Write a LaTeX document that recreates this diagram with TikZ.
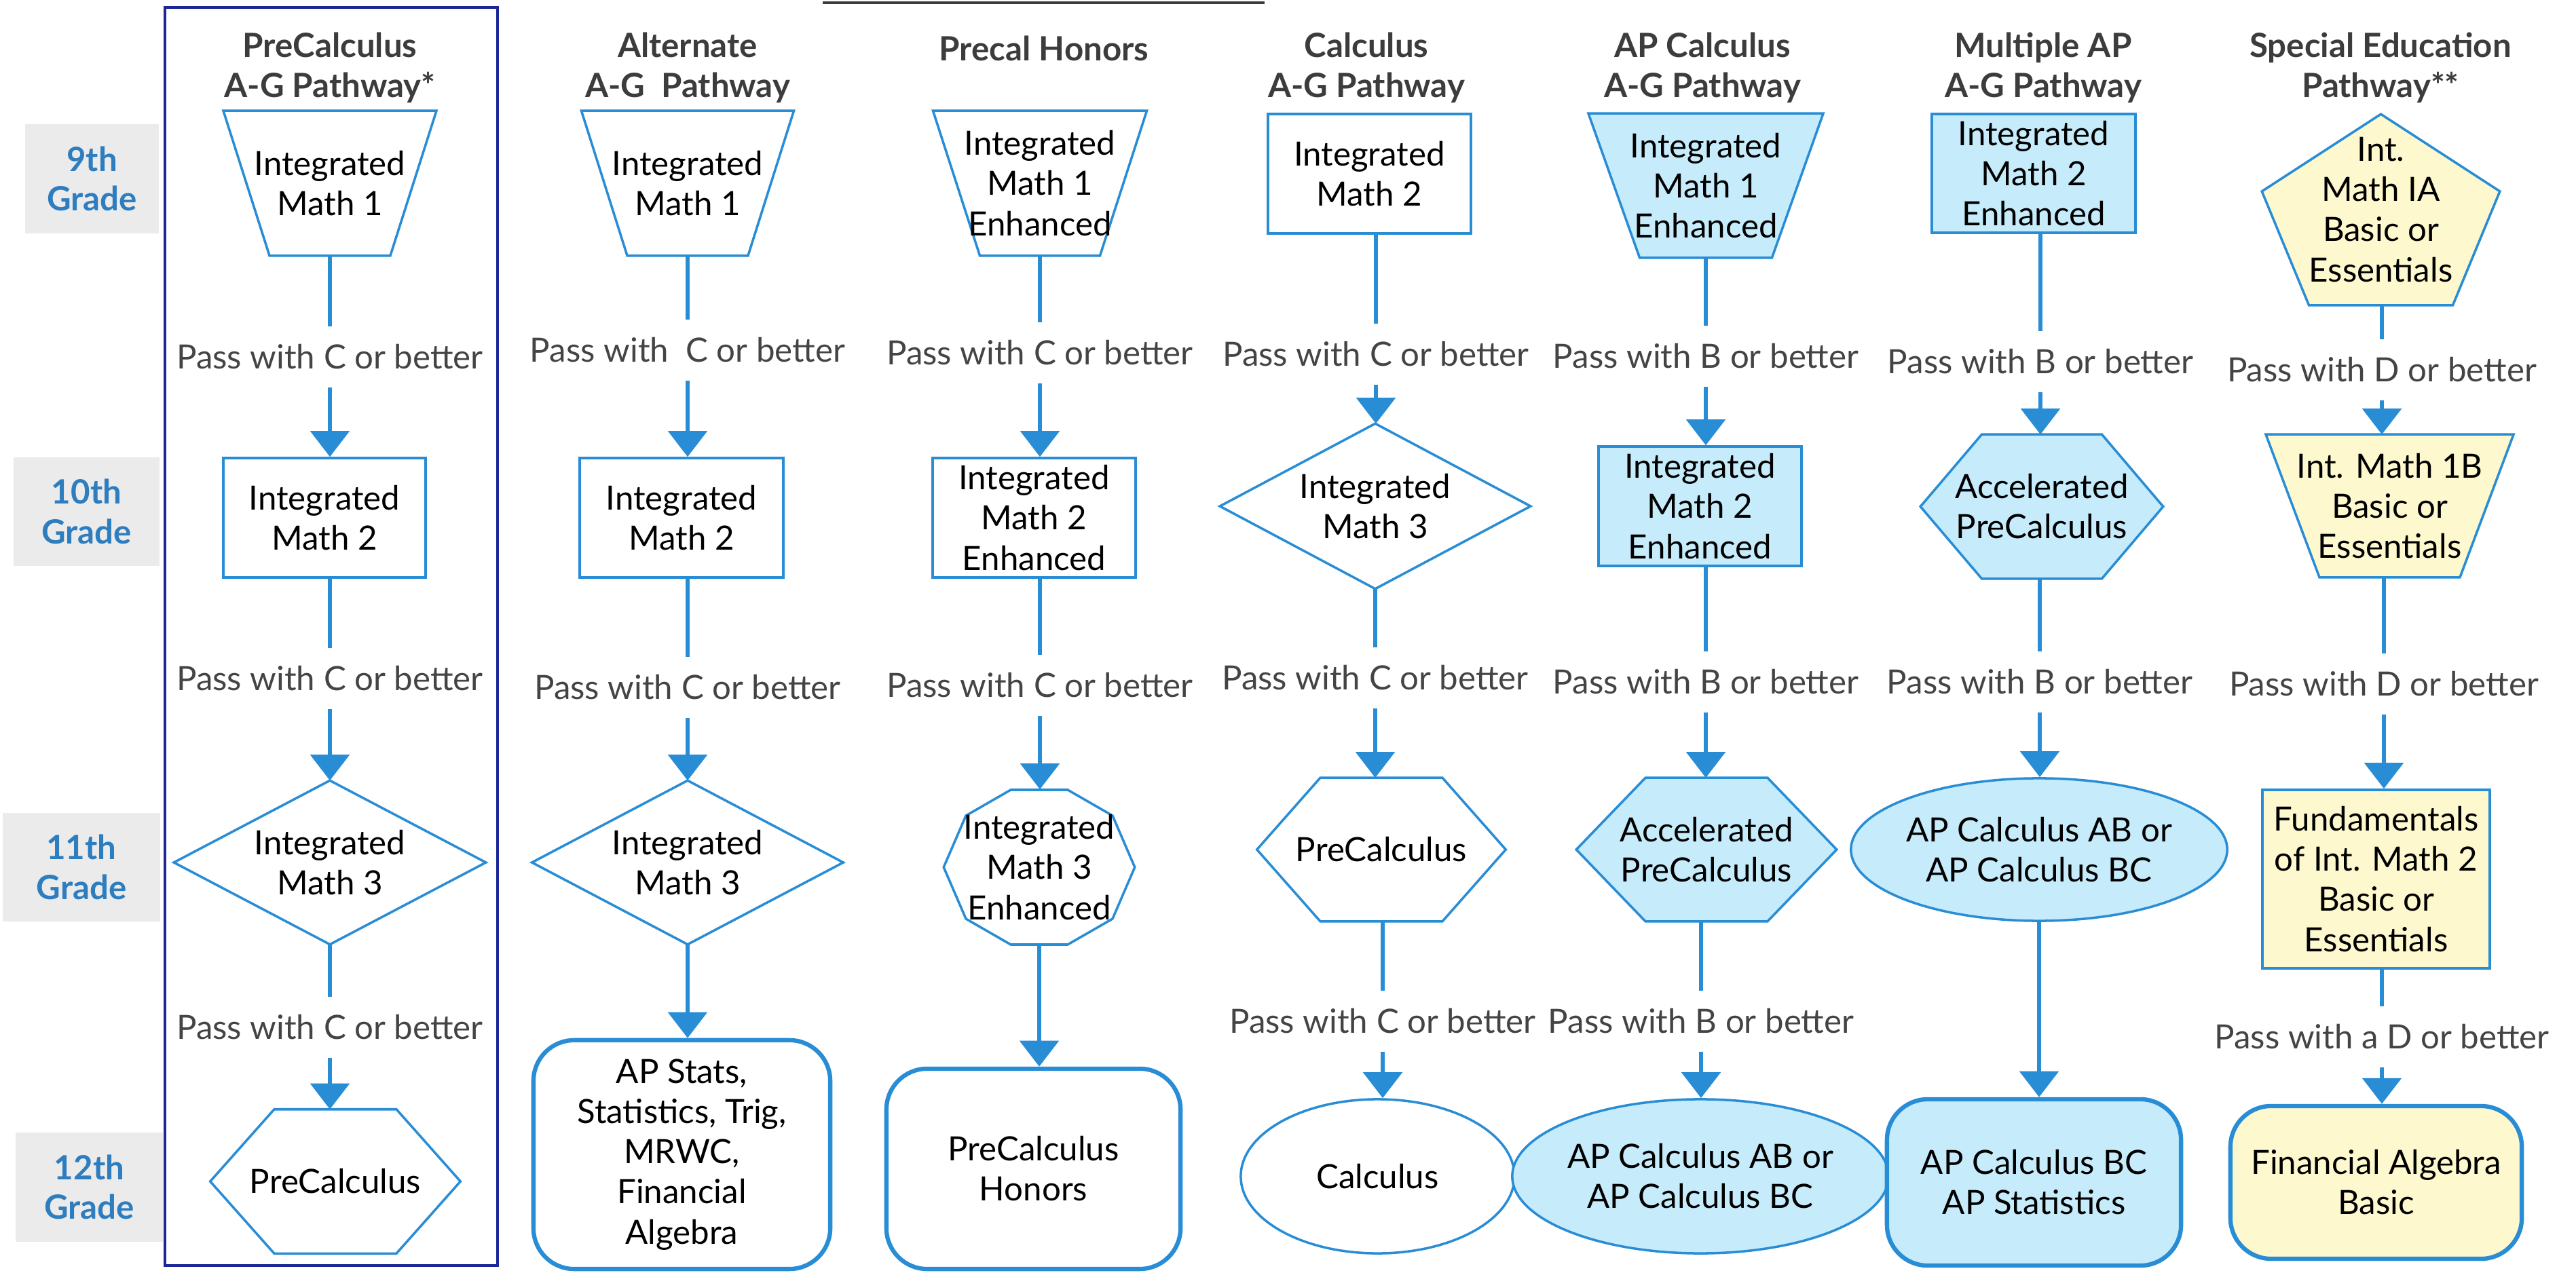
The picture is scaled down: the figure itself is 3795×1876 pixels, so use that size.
\documentclass[tikz,border=0pt]{standalone}
\usepackage{fontspec}
\setmainfont{Lato}
\usetikzlibrary{arrows.meta,shapes.geometric,calc,backgrounds}
\definecolor{nb}{RGB}{41,141,214}
\definecolor{lb}{RGB}{198,236,251}
\definecolor{yl}{RGB}{253,248,205}
\definecolor{navyc}{RGB}{28,38,150}
\definecolor{hd}{RGB}{60,60,60}
\definecolor{lg}{RGB}{68,68,68}
\definecolor{gb}{RGB}{235,235,235}
\definecolor{gt}{RGB}{46,125,190}
\tikzset{
  nodetext/.style={font=\fontsize{14}{16.8}\selectfont, align=center, inner sep=0pt, text=black},
  carrier/.style={nodetext, draw=none, rectangle},
  rbox/.style={nodetext, draw=nb, line width=1pt, rectangle},
  rrbox/.style={nodetext, draw=nb, line width=1.8pt, rounded corners=0.6cm, rectangle},
  ell/.style={nodetext, draw=nb, line width=1pt, ellipse},
  shp/.style={draw=nb, line width=1pt, line join=miter},
  lbl/.style={font=\fontsize{14}{16.8}\selectfont, text=lg, inner sep=0pt, minimum height=0.88cm},
  hdr/.style={font=\fontsize{14}{16.6}\selectfont\bfseries, text=hd, align=center, inner sep=0pt},
  grade/.style={font=\fontsize{14}{16.6}\selectfont\bfseries, text=gt, fill=gb, align=center, inner sep=0pt},
  conn/.style={draw=nb, line width=1.6pt},
  arr/.style={conn, -{Triangle[width=0.57cm,length=0.38cm]}},
}
\newcommand\trapzd[4]{\draw[shp,#4] ($(#1.north)+(-#2,0)$) -- ($(#1.north)+(#2,0)$) -- ($(#1.south)+(#3,0)$) -- ($(#1.south)+(-#3,0)$) -- cycle;}
\newcommand\hexag[3]{\draw[shp,#3] ($(#1.north)+(-#2,0)$) -- ($(#1.north)+(#2,0)$) -- (#1.east) -- ($(#1.south)+(#2,0)$) -- ($(#1.south)+(-#2,0)$) -- (#1.west) -- cycle;}
\newcommand\diam[2]{\draw[shp,#2] (#1.north) -- (#1.east) -- (#1.south) -- (#1.west) -- cycle;}
\begin{document}
\begin{tikzpicture}[x=0.01cm,y=-0.01cm]
\useasboundingbox (0,0) rectangle (3795,1876);
\begin{pgfonlayer}{background}
\fill[white] (0,0) rectangle (3795,1876);
\end{pgfonlayer}

% frame and top rule
\draw[navyc, line width=1pt] (243,11) rectangle (733,1865);
\draw[hd, line width=1.3pt] (1212,4) -- (1863,4);

% grade labels
\node[grade, minimum width=1.97cm, minimum height=1.61cm] (g9) at (135.5,263.5) {9th\\Grade};
\node[grade, minimum width=2.15cm, minimum height=1.60cm] (g10) at (127.5,754) {10th\\Grade};
\node[grade, minimum width=2.32cm, minimum height=1.60cm] (g11) at (120,1278) {11th\\Grade};
\node[grade, minimum width=2.17cm, minimum height=1.61cm] (g12) at (131.5,1749.5) {12th\\Grade};

% headers
\node[hdr] (h1) at (486,100) {PreCalculus\\A-G Pathway*};
\node[hdr] (h2) at (1013,100) {Alternate\\A-G\ \ Pathway};
\node[hdr] (h3) at (1538,71) {Precal Honors};
\node[hdr] (h4) at (2013,100) {Calculus\\A-G Pathway};
\node[hdr] (h5) at (2508,100) {AP Calculus\\A-G Pathway};
\node[hdr] (h6) at (3010,100) {Multiple AP\\A-G Pathway};
\node[hdr] (h7) at (3507,100) {Special Education\\Pathway**};

% column 1
\node[carrier, minimum width=3.14cm, minimum height=2.12cm] (n11) at (486,270) {Integrated\\Math 1};
\node[lbl] (l11) at (486,526) {Pass with C or better};
\node[rbox, minimum width=2.98cm, minimum height=1.76cm] (n12) at (478,763) {Integrated\\Math 2};
\node[lbl] (l12) at (486,1000) {Pass with C or better};
\node[carrier, minimum width=4.58cm, minimum height=2.40cm] (n13) at (486,1271) {Integrated\\Math 3};
\node[lbl] (l13) at (486,1514) {Pass with C or better};
\node[carrier, minimum width=3.67cm, minimum height=2.11cm] (n14) at (494,1741) {PreCalculus};

% column 2
\node[carrier, minimum width=3.13cm, minimum height=2.12cm] (n21) at (1013,270) {Integrated\\Math 1};
\node[lbl] (l21) at (1013,516) {Pass with\ \ C or better};
\node[rbox, minimum width=3.00cm, minimum height=1.76cm] (n22) at (1004,763) {Integrated\\Math 2};
\node[lbl] (l22) at (1013,1013) {Pass with C or better};
\node[carrier, minimum width=4.57cm, minimum height=2.40cm] (n23) at (1013,1271) {Integrated\\Math 3};
\node[rrbox, minimum width=4.37cm, minimum height=3.37cm] (n24) at (1004.5,1701.5) {AP Stats,\\Statistics, Trig,\\MRWC,\\Financial\\Algebra};

% column 3
\node[carrier, minimum width=3.15cm, minimum height=2.12cm] (n31) at (1532,270) {Integrated\\Math 1\\Enhanced};
\node[lbl] (l31) at (1532,520) {Pass with C or better};
\node[rbox, minimum width=2.99cm, minimum height=1.76cm] (n32) at (1523.5,763) {Integrated\\Math 2\\Enhanced};
\node[lbl] (l32) at (1532,1010) {Pass with C or better};
\node[carrier, minimum width=2.80cm, minimum height=2.28cm] (n33) at (1531,1278) {Integrated\\Math 3\\Enhanced};
\node[rrbox, minimum width=4.33cm, minimum height=2.95cm] (n34) at (1522.5,1722.5) {PreCalculus\\Honors};

% column 4
\node[rbox, minimum width=2.99cm, minimum height=1.76cm] (n41) at (2017.5,256) {Integrated\\Math 2};
\node[lbl] (l41) at (2027,522) {Pass with C or better};
\node[carrier, minimum width=4.56cm, minimum height=2.42cm] (n42) at (2026,746) {Integrated\\Math 3};
\node[lbl] (l42) at (2026,999) {Pass with C or better};
\node[carrier, minimum width=3.65cm, minimum height=2.10cm] (n43) at (2035,1252) {PreCalculus};
\node[lbl] (l43) at (2037,1505) {Pass with C or better};
\node[ell, minimum width=4.03cm, minimum height=2.27cm] (n44) at (2029.5,1733.5) {Calculus};

% column 5
\node[carrier, minimum width=3.46cm, minimum height=2.11cm] (n51) at (2513,273.5) {Integrated\\Math 1\\Enhanced};
\node[lbl] (l51) at (2513,525) {Pass with B or better};
\node[rbox, fill=lb, minimum width=2.99cm, minimum height=1.76cm] (n52) at (2504.5,746) {Integrated\\Math 2\\Enhanced};
\node[lbl] (l52) at (2513,1005) {Pass with B or better};
\node[carrier, minimum width=3.82cm, minimum height=2.10cm] (n53) at (2514,1252) {Accelerated\\PreCalculus};
\node[lbl] (l53) at (2506,1505) {Pass with B or better};
\node[ell, fill=lb, minimum width=4.56cm, minimum height=2.27cm] (n54) at (2505,1733.5) {AP Calculus AB or\\AP Calculus BC};

% column 6
\node[rbox, fill=lb, minimum width=3.00cm, minimum height=1.75cm] (n61) at (2996,255.5) {Integrated\\Math 2\\Enhanced};
\node[lbl] (l61) at (3006,533) {Pass with B or better};
\node[carrier, minimum width=3.56cm, minimum height=2.11cm] (n62) at (3008,746.5) {Accelerated\\PreCalculus};
\node[lbl] (l62) at (3005,1005) {Pass with B or better};
\node[ell, fill=lb, minimum width=4.56cm, minimum height=2.10cm] (n63) at (3004,1252) {AP Calculus AB or\\AP Calculus BC};
\node[rrbox, fill=lb, minimum width=4.33cm, minimum height=2.45cm] (n64) at (2996.5,1742.5) {AP Calculus BC\\AP Statistics};

% column 7
\node[carrier, minimum width=3.49cm, minimum height=2.80cm] (n71) at (3507.5,309) {Int.\\Math IA\\Basic or\\Essentials};
\node[lbl] (l71) at (3509,545) {Pass with D or better};
\node[carrier, minimum width=3.65cm, minimum height=2.09cm] (n72) at (3520.5,745.5) {Int. Math 1B\\Basic or\\Essentials};
\node[lbl] (l72) at (3512,1008) {Pass with D or better};
\node[rbox, fill=yl, minimum width=3.35cm, minimum height=2.63cm] (n73) at (3500.5,1295.5) {Fundamentals\\of Int. Math 2\\Basic or\\Essentials};
\node[lbl] (l73) at (3509,1528) {Pass with a D or better};
\node[rrbox, fill=yl, minimum width=4.29cm, minimum height=2.25cm] (n74) at (3500.5,1742.5) {Financial Algebra\\Basic};

% shapes behind the text
\begin{pgfonlayer}{background}
\trapzd{n11}{157}{89}{}
\diam{n13}{}
\hexag{n14}{90}{}
\trapzd{n21}{156.5}{89}{}
\diam{n23}{}
\trapzd{n31}{157.5}{88.5}{}
\draw[shp] ($(n33)+(-42,-114)$) -- ($(n33)+(42,-114)$) -- ($(n33)+(108,-76)$) -- (n33.east) -- ($(n33)+(108,76)$) -- ($(n33)+(42,114)$) -- ($(n33)+(-42,114)$) -- ($(n33)+(-108,76)$) -- (n33.west) -- ($(n33)+(-108,-76)$) -- cycle;
\diam{n42}{}
\hexag{n43}{90}{}
\trapzd{n51}{173}{97.5}{fill=lb}
\hexag{n53}{90}{fill=lb}
\hexag{n62}{88.5}{fill=lb}
\draw[shp, fill=yl] (n71.north) -- ($(n71.north west)!0.404!(n71.south west)$) -- ($(n71.south)+(-106,0)$) -- ($(n71.south)+(106,0)$) -- ($(n71.north east)!0.404!(n71.south east)$) -- cycle;
\trapzd{n72}{182.5}{103.5}{fill=yl}
\end{pgfonlayer}

% connectors
\foreach \a/\l/\b in {n11/l11/n12, n12/l12/n13, n13/l13/n14,
                      n21/l21/n22, n22/l22/n23,
                      n31/l31/n32, n32/l32/n33,
                      n41/l41/n42, n42/l42/n43, n43/l43/n44,
                      n51/l51/n52, n52/l52/n53, n53/l53/n54,
                      n61/l61/n62, n62/l62/n63,
                      n71/l71/n72, n72/l72/n73, n73/l73/n74}{
  \draw[conn] (\l.north |- \a.south) -- (\l.north);
  \draw[arr] (\l.south) -- (\l.south |- \b.north);
}
\draw[arr] (n23.south) -- (n23.south |- n24.north);
\draw[arr] (n33.south) -- (n33.south |- n34.north);
\draw[arr] (n63.south) -- (n63.south |- n64.north);
\end{tikzpicture}
\end{document}
